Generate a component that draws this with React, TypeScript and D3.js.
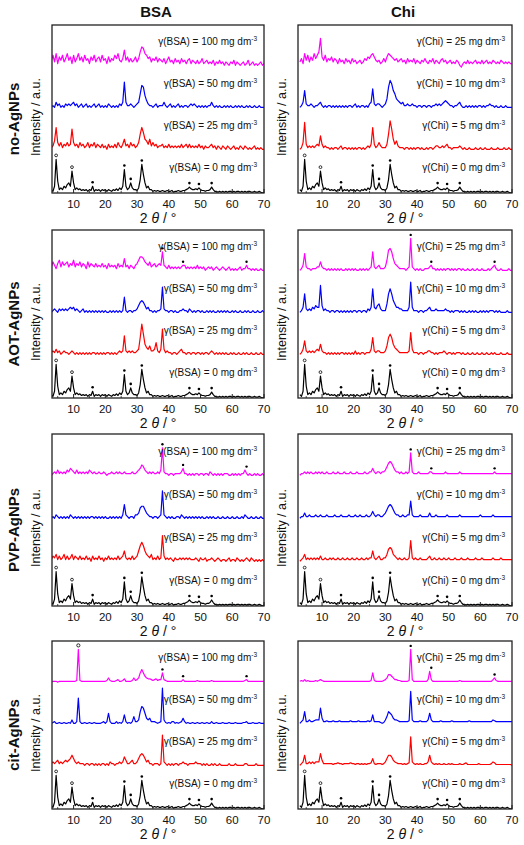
import React from 'react';
import * as d3 from 'd3';

// 2θ sampling grid (degrees), 3.0 … 70.0 in 0.5° steps (135 points)
const twoTheta: number[] = d3.range(0, 135).map((i) => 3 + i * 0.5);

// ---- reference sample (0 mg dm-3), same in every panel ----
const black0 = [
  3,2,5,21,8,3,4,3,5,4,
  6,7,5,14,7,3,4,3,3.5,2.5,
  3,2.5,3,2,3,2.5,5,2,3,2.5,
  3,2,3,2.5,3,2,3,2.5,2,3,
  2.5,3.5,2.5,4,3,5,15,5,3,4,
  7,4,3,3,2.5,4,9,18,12,7,
  4,5,3,3,2,2.5,2,2.5,2,2,
  2.5,2,2,2.5,2,2,2.5,1.5,2,2,
  2.5,2,2,2.5,2.5,3,3.5,4.5,3.5,3,
  3,3.5,3,4,3,2.5,2.5,2,2.5,2.5,
  3,4.5,3,2,2,1.5,2,1.5,2,1.5,
  2,1.5,2,2,1.5,2,1.5,2,2,1.5,
  2,1.5,2,1.5,2,2,1.5,1.5,2,1.5,
  1.5,2,1.5,1,1.5,
];

// ---- no-AgNPs ----
const noBSA25 = [
  3,4,7,15,6,4,6,3,5,4,
  6,4,5,14,6,4,5,3,6,4,
  5,3,4,6,3,5,4,6,3,5,
  4,3,5,3,4,2,5,3,4,3,
  5,3,6,4,3,5,8,4,5,3,
  6,4,5,3,4,6,11,15,12,8,
  7,5,8,4,6,4,5,3,4,4,
  5,3,4,3,5,3,4,3,4,3,
  4,3,5,3,4,5,3,5,3,4,
  3,4,3,5,3,4,2,4,3,3,
  4,5,3,4,2,4,3,2,4,3,
  2,4,3,2,3,4,2,3,2,4,
  3,2,4,3,2,3,2,3,4,2,
  3,2,3,2,2,
];
const noBSA50 = [
  2,3,2,5,3,4,2,3,2,4,
  3,4,3,4,5,3,4,2,3,4,
  2,3,4,2,3,2,3,4,2,3,
  4,2,3,2,3,2,4,3,2,3,
  2,3,2,4,3,5,17,5,3,3,
  4,3,2,3,4,5,10,15,14,9,
  6,4,3,3,2,3,4,2,3,3,
  3,5,3,2,3,4,2,3,2,3,
  4,2,3,2,3,3,2,3,4,3,
  4,3,2,3,2,3,2,3,2,3,
  3,5,3,2,3,2,3,2,2,3,
  2,3,2,3,2,2,3,2,3,2,
  3,2,2,3,2,3,2,2,3,2,
  2,3,2,2,2,
];
const noBSA100 = [
  5,8,4,9,3,7,5,8,4,6,
  9,5,7,3,8,4,6,9,5,7,
  4,8,5,6,3,7,5,8,4,6,
  7,4,8,5,6,3,7,4,6,5,
  8,6,9,5,4,6,11,5,7,4,
  6,4,5,7,4,6,10,13,12,9,
  8,6,7,4,6,5,7,4,6,5,
  4,6,3,5,7,4,5,3,6,4,
  5,3,6,4,5,3,5,6,3,5,
  4,3,5,3,4,6,3,4,5,3,
  4,3,5,2,4,3,5,3,4,2,
  4,3,2,4,3,5,2,4,3,2,
  3,4,2,3,5,2,3,4,2,3,
  2,3,4,2,3,
];
const noChi5 = [
  2,3,6,18,5,3,4,3,4,3,
  4,5,4,10,5,3,4,3,3,2,
  3,2,3,3,2,3,4,2,3,3,
  2,3,2,3,2,3,2,3,3,2,
  3,2,3,4,3,5,15,5,3,4,
  6,4,3,3,3,5,11,19,14,8,
  5,7,4,3,3,3,2,3,3,2,
  3,2,3,2,3,3,2,3,2,2,
  3,2,3,3,2,3,4,4,3,3,
  4,3,4,5,3,3,2,3,3,3,
  3,4,3,2,3,2,2,3,2,2,
  2,3,2,2,3,2,2,3,2,2,
  2,3,2,2,2,3,2,2,2,3,
  2,2,3,2,2,
];
const noChi10 = [
  2,3,5,12,4,3,3,4,3,2,
  3,3,4,5,3,2,3,2,3,3,
  2,3,2,3,2,3,2,3,2,3,
  2,3,3,2,3,4,2,3,2,3,
  3,2,3,2,4,5,13,4,3,4,
  4,3,2,3,4,7,14,18,16,12,
  10,7,6,5,4,5,3,3,4,3,
  3,4,3,3,2,3,3,2,3,3,
  2,3,3,2,3,3,4,3,4,3,
  4,5,6,5,4,3,3,2,3,3,
  4,5,3,2,2,3,2,3,2,3,
  2,3,2,3,3,2,3,2,3,3,
  4,3,3,2,3,2,2,3,2,2,
  3,2,2,2,2,
];
const noChi25 = [
  4,6,3,9,5,8,4,7,5,9,
  6,8,10,18,7,5,8,4,6,5,
  7,4,6,5,3,6,4,5,3,6,
  4,5,3,6,4,5,3,4,5,3,
  4,6,5,7,6,8,9,7,5,4,
  5,3,4,6,4,7,9,8,7,6,
  5,6,4,5,6,4,5,3,6,4,
  5,4,6,3,5,4,3,5,4,6,
  4,3,5,4,6,3,5,4,3,5,
  6,4,5,3,4,5,3,4,3,5,
  4,2,1,3,4,3,5,3,4,3,
  4,5,3,4,3,5,3,4,5,3,
  4,3,5,4,3,4,3,5,4,3,
  4,3,4,3,3,
];

// ---- AOT-AgNPs ----
const aotBSA25 = [
  3,4,3,5,3,4,2,3,4,3,
  3,2,3,4,3,2,3,2,3,2,
  3,2,3,2,3,2,3,3,2,3,
  2,3,2,3,2,3,3,2,3,2,
  3,2,3,4,3,4,13,4,3,4,
  3,4,3,3,4,5,12,20,14,8,
  6,5,7,4,4,5,9,4,3,5,
  17,5,3,4,3,3,2,3,3,2,
  3,4,5,3,3,2,3,3,2,3,
  3,2,3,3,2,3,2,3,3,2,
  3,4,3,2,3,2,3,2,3,2,
  3,2,2,3,2,3,2,2,3,2,
  2,3,2,3,2,2,3,2,2,3,
  2,2,3,2,2,
];
const aotBSA50 = [
  2,3,4,3,2,4,3,4,3,4,
  3,4,5,4,5,3,4,3,2,3,
  4,2,3,2,3,2,3,2,3,2,
  3,2,3,2,3,2,2,3,2,3,
  2,3,2,3,2,3,11,3,2,3,
  3,2,3,3,4,6,8,9,8,6,
  4,5,3,3,2,3,2,3,3,4,
  17,4,3,3,2,3,3,2,3,2,
  2,3,3,4,3,3,2,4,3,2,
  3,2,3,3,2,3,2,2,3,2,
  3,2,3,2,2,3,2,3,2,3,
  2,3,2,2,3,2,3,2,2,3,
  2,2,3,2,3,2,2,3,2,2,
  3,2,2,3,2,
];
const aotBSA100 = [
  4,7,5,3,6,8,4,7,5,6,
  7,4,6,5,8,4,6,5,7,4,
  6,5,3,7,4,6,5,4,6,4,
  5,4,6,4,5,3,6,4,5,4,
  5,3,6,4,5,4,9,4,5,3,
  5,4,3,5,6,8,10,10,9,7,
  6,5,7,4,5,6,4,5,6,5,
  13,5,4,3,5,3,4,3,4,3,
  4,3,4,5,5,3,4,3,4,3,
  4,3,5,3,4,3,4,2,3,4,
  3,4,2,3,4,3,2,3,4,3,
  2,3,4,2,3,2,3,2,3,4,
  2,3,3,5,3,3,2,3,2,3,
  2,2,3,2,2,
];
const aotChi5 = [
  2,3,5,10,4,3,4,3,4,3,
  4,5,4,8,4,3,3,2,3,2,
  3,2,3,2,3,2,3,3,2,3,
  2,3,2,3,2,4,2,3,2,3,
  3,2,3,3,3,5,12,4,3,4,
  4,3,3,3,4,7,12,14,12,8,
  6,5,4,3,3,3,3,3,3,4,
  15,5,3,3,3,2,3,3,2,3,
  3,4,4,3,3,2,3,2,3,3,
  3,4,3,2,3,3,2,3,2,3,
  3,3,2,3,2,2,3,2,2,3,
  2,2,3,2,2,3,2,2,3,2,
  2,3,2,3,2,2,2,3,2,2,
  2,3,2,2,2,
];
const aotChi10 = [
  2,3,5,13,4,3,4,3,5,4,
  6,5,5,18,6,3,4,3,3,2,
  3,3,2,3,3,2,3,2,3,2,
  3,2,3,2,3,3,2,3,3,2,
  3,3,2,4,3,5,16,5,4,6,
  7,4,3,3,3,7,13,16,13,9,
  7,5,5,4,4,3,3,3,3,5,
  20,5,3,3,3,2,3,3,2,3,
  3,4,5,3,3,3,4,3,3,3,
  3,3,4,3,3,2,3,2,3,3,
  3,2,3,2,3,2,2,3,2,3,
  2,3,2,2,3,2,3,2,3,2,
  3,3,3,2,3,2,3,2,2,2,
  2,3,2,2,2,
];
const aotChi25 = [
  2,3,5,12,4,3,3,2,3,3,
  3,4,4,7,4,3,3,2,3,2,
  3,2,3,2,3,2,3,2,2,3,
  2,3,2,3,2,3,2,2,3,2,
  3,2,3,2,3,4,13,4,3,4,
  5,3,3,3,4,8,14,15,13,9,
  6,5,4,3,3,3,3,2,3,4,
  21,4,3,2,3,2,3,2,2,3,
  3,3,4,5,3,3,2,3,2,3,
  2,3,2,3,3,2,3,2,3,2,
  3,3,2,3,2,2,3,2,2,3,
  2,2,3,2,2,3,2,2,2,3,
  2,3,4,5,3,2,2,3,2,2,
  2,2,3,2,2,
];

// ---- PVP-AgNPs ----
const pvpBSA25 = [
  3,5,4,6,3,5,3,4,6,3,
  5,3,4,6,3,5,4,3,5,3,
  4,3,5,3,4,2,5,3,4,3,
  5,3,4,2,4,3,5,3,4,3,
  4,3,5,3,4,5,8,4,3,4,
  3,5,3,4,5,8,11,13,11,8,
  6,5,4,6,3,4,3,5,3,4,
  17,5,3,4,3,4,3,2,4,3,
  3,4,3,4,3,4,3,4,3,3,
  3,4,3,2,4,3,3,4,2,3,
  3,4,3,2,3,4,3,2,3,3,
  2,3,4,2,3,3,2,4,3,2,
  3,2,3,4,3,2,4,3,2,3,
  2,3,2,3,2,
];
const pvpBSA50 = [
  2,3,2,4,3,2,3,2,3,2,
  3,2,4,3,2,3,2,3,2,3,
  2,3,2,3,2,3,3,2,3,2,
  3,2,3,2,3,2,2,3,2,3,
  2,3,2,3,2,4,10,4,3,2,
  3,3,2,4,4,5,8,9,9,7,
  5,4,3,3,2,3,3,2,3,4,
  18,4,3,2,3,2,3,2,2,3,
  3,2,4,3,2,3,2,3,2,3,
  2,3,2,3,2,3,2,2,3,2,
  3,2,3,2,2,3,2,2,3,2,
  2,3,2,2,3,2,2,3,2,2,
  3,2,4,3,2,2,3,2,2,3,
  2,2,3,2,2,
];
const pvpBSA100 = [
  2,3,4,3,5,3,4,3,4,3,
  5,4,6,5,4,3,5,3,4,3,
  4,3,4,3,5,4,3,4,3,3,
  4,3,3,4,3,2,3,3,4,3,
  3,4,3,4,3,3,4,3,3,3,
  3,4,3,3,4,5,6,8,7,5,
  4,3,4,3,4,3,3,4,3,5,
  18,4,3,3,2,3,3,2,3,3,
  3,3,4,6,3,3,2,3,2,3,
  2,3,3,2,3,3,2,3,3,2,
  4,3,2,3,2,3,2,3,2,3,
  3,3,2,2,3,2,3,2,3,2,
  3,3,5,3,2,3,2,2,3,2,
  3,2,2,3,2,
];
const pvpChi5 = [
  2,3,4,6,3,4,3,4,3,4,
  3,4,3,5,3,3,4,3,3,4,
  3,4,3,3,4,3,3,4,3,3,
  4,3,3,4,3,3,4,3,3,4,
  3,3,4,3,4,4,8,4,3,4,
  5,3,3,4,4,6,9,10,9,6,
  5,4,3,4,3,3,4,3,3,4,
  14,4,3,4,3,3,4,3,3,3,
  3,4,5,3,3,4,3,3,4,3,
  3,4,3,3,4,3,3,3,4,3,
  3,3,4,3,3,3,4,3,3,3,
  3,4,3,3,3,4,3,3,3,3,
  3,3,4,3,3,3,3,4,3,3,
  3,3,3,3,3,
];
const pvpChi10 = [
  2,3,3,5,3,3,4,3,3,3,
  4,3,3,4,3,3,3,4,3,3,
  3,3,4,3,3,3,4,3,3,3,
  3,4,3,3,3,4,3,3,4,3,
  3,3,4,3,3,4,6,4,3,4,
  4,3,3,4,5,7,9,10,9,7,
  5,4,4,3,3,4,3,3,4,4,
  12,4,3,3,3,3,4,3,3,3,
  3,3,5,3,3,3,4,3,3,3,
  3,3,3,4,3,3,3,3,3,3,
  3,4,3,3,3,3,3,3,3,3,
  3,3,3,3,4,3,3,3,3,3,
  3,3,4,3,3,3,3,3,3,3,
  3,3,3,3,3,
];
const pvpChi25 = [
  2,3,3,4,3,4,3,4,3,3,
  4,3,4,3,4,3,3,4,3,3,
  3,4,3,3,4,3,3,3,4,3,
  3,3,4,3,3,3,4,3,3,3,
  3,4,3,3,4,4,6,4,3,4,
  4,3,4,4,5,7,9,10,9,7,
  5,4,4,3,4,3,3,4,3,4,
  15,4,3,3,3,4,3,3,3,3,
  3,3,4,4,3,3,3,3,3,3,
  3,3,4,3,3,3,3,3,3,3,
  3,4,3,3,3,3,3,3,3,3,
  3,3,3,3,3,3,3,3,3,3,
  3,3,3,4,3,3,3,3,3,3,
  3,3,3,3,3,
];

// ---- cit-AgNPs ----
const citBSA25 = [
  3,4,3,4,5,3,4,3,4,5,
  4,5,6,8,6,4,3,4,3,3,
  3,2,3,3,2,3,3,2,3,2,
  3,2,3,3,2,3,2,4,3,3,
  2,3,3,4,3,4,7,5,3,3,
  4,5,3,3,4,6,8,9,8,6,
  4,5,3,3,2,3,3,3,2,3,
  20,4,3,2,3,2,3,2,3,3,
  2,3,3,4,3,3,2,3,3,3,
  3,4,3,3,3,2,3,2,3,2,
  2,3,2,3,2,2,3,2,2,2,
  2,2,3,2,2,2,3,2,2,2,
  2,2,3,3,2,2,2,2,2,3,
  2,2,2,2,2,
];
const citBSA50 = [
  2,2.5,3,2,2,2.5,2,2,2.5,2,
  2,2.5,2,4,2,2,3,17,3,2,
  2,2.5,2,2,2.5,2,2,2.5,2,2,
  2,2,2.5,3,2,3,8,3,2,2,
  2,3,2,2.5,2,3,7,3,2,2.5,
  2,3,6,3,3,4,9,12,11,8,
  5,4,5,3,3,3,2.5,2,2.5,3,
  23,4,2.5,2,2.5,2,3,3,2,2.5,
  2,2.5,3,5,3,2,2.5,2,2,2.5,
  2,2,2.5,2,2,2.5,2,2,2.5,2,
  2,3,2,2,2.5,2,2,2,2.5,2,
  2,2,2.5,2,2,2,2.5,2,2,2,
  2,2.5,2.5,3,2,2,2,2.5,2,2,
  2,2.5,2,2,2,
];
const citBSA100 = [
  1.5,2,2,2,1.5,2,2,2,2,2,
  2,2,2,2,2,2,2.5,21,2.5,2,
  2,2,2,2,2,2,2,2,2,2,
  2,2,2,2,2,2.5,4,2.5,2,2,
  2,2.5,3,2,2,2.5,3.5,2,2,2,
  2,2.5,4,2.5,3,4,7,9,7,5,
  4,3.5,3.5,3,2.5,3,3.5,2.5,3,3,
  7,3,2.5,2,2,2,2,2,2,2,
  2,2,2,3,2,2,2,2,2,2,
  2,2,2.5,2,2,2,2,2,2,2,
  2,2.5,2,2,2,2,2,2,2,2,
  2,2,2,2,2,2,2,2,2,2,
  2,2,2.5,3,2,2,2,2,2,2,
  2,2,2,2,2,
];
const citChi5 = [
  2,3,4,8,3,3,4,3,4,3,
  4,4,4,9,5,3,3,3,3,3,
  3,2.5,3,3,3.5,3,3,2.5,3,3,
  3,3,3.5,3,3,2.5,3,3,2.5,3,
  2.5,3,2.5,3,3,3.5,6,3,2.5,3,
  3,3,2.5,3,4,6,8,8,7,5,
  4,3.5,3,3,3,2.5,3,2.5,3,3.5,
  19,4,3,2.5,3,2.5,3,2.5,2.5,3,
  3,4,8,4,3,2.5,3,2.5,3,2.5,
  2.5,3,2.5,2.5,3,2.5,3,2.5,2.5,2.5,
  2.5,3,2.5,2.5,3,3.5,2.5,2.5,2.5,2.5,
  2.5,2.5,2.5,3,2.5,2.5,2.5,2.5,2.5,2.5,
  2.5,3,4,3.5,2.5,2.5,2.5,2.5,2.5,2.5,
  2.5,2.5,2.5,2.5,2,
];
const citChi10 = [
  2,3,4,9,3,3,4,3,3,3.5,
  4,4,4,11,5,3,3,3.5,3,3,
  3,3.5,3,3,3,3.5,3,3,3,3,
  3,3,3.5,3,3,3,3,3.5,3,3,
  3,3,3,3.5,3,3.5,7,3,3,3,
  3,2.5,2,2.5,4,6,9,8,7,5,
  4,4,3.5,3,3,3,3,3,3,3.5,
  21,4,3,3,3,3,3.5,3,3,3,
  3,4,8,4,3,3,3,3,3,3.5,
  3,3,3,3,3,3,3.5,3,3,3,
  3,3,3,3,3,3,3,3.5,3,3,
  3,3,3,3,3,3,3,3,3,3,
  3,3,4,3.5,3,3,3,3,3,3,
  3,3,3,3,3,
];
const citChi25 = [
  2,2.5,2,3,2,2.5,2,2,2,2,
  2.5,2,2.5,3,2.5,2,2,2,2,2,
  2,2,2,2,2,2,2,2,2,2,
  2,2,2,2,2,2,2,2,2,2,
  2,2,2,2,2,2.5,7,2.5,2,2,
  2,2,2,2.5,3,4,6,6,5,4,
  3,3,2.5,2.5,2,2,2,2,2,2.5,
  21,3,2,2,2,2,2,2,2,2,
  2,3,8,3,2,2,2,2,2,2,
  2,2,2,2,2,2,2,2,2,2,
  2,2.5,2,2,2,2,2,2,2,2,
  2,2,2,2,2,2,2,2,2,2,
  2,2,3,4,2.5,2,2,2,2,2,
  2,2,2,2,2,
];

// ---- labels / categories ----
const columnTitles = ['BSA', 'Chi'];
const rowTitles = ['no-AgNPs', 'AOT-AgNPs', 'PVP-AgNPs', 'cit-AgNPs'];
const concentrations = [
  ['0', '25', '50', '100'],
  ['0', '5', '10', '25'],
];
const xTicks = [10, 20, 30, 40, 50, 60, 70];
const xMinorTicks = [5, 15, 25, 35, 45, 55, 65];

// traces per panel: [row][col] -> bottom-to-top
const panelTraces = [
  [[black0, noBSA25, noBSA50, noBSA100], [black0, noChi5, noChi10, noChi25]],
  [[black0, aotBSA25, aotBSA50, aotBSA100], [black0, aotChi5, aotChi10, aotChi25]],
  [[black0, pvpBSA25, pvpBSA50, pvpBSA100], [black0, pvpChi5, pvpChi10, pvpChi25]],
  [[black0, citBSA25, citBSA50, citBSA100], [black0, citChi5, citChi10, citChi25]],
];

// phase markers: o = open circle, * = filled dot
const blackMarkerAngles = [4.5, 9.5, 16, 26, 28, 31.5, 46.5, 49.5, 53.5];
const blackMarkerKinds = ['o', 'o', '*', '*', '*', '*', '*', '*', '*'];
const agMarkerAngles = [38, 44.5, 64.5];
const topMarkers: number[][][] = [
  [[], []],
  [agMarkerAngles, agMarkerAngles],
  [agMarkerAngles, agMarkerAngles],
  [agMarkerAngles, agMarkerAngles],
];
const citTopOpenAngle = [11.5];

// ---- layout ----
const W = 524;
const H = 845;
const rowsY = [
  [25, 193],
  [230, 398],
  [434, 606],
  [641, 809],
];
const colsX = [
  { x0: 52, x1: 264, d: [3.2, 70] },
  { x0: 298, x1: 512, d: [2.4, 70] },
];
const offsets = [-1, 24, 49, 74];
const colors = ['#000000', '#ff0000', '#0000ff', '#ff00ff'];
const FONT = "'Liberation Sans', Arial, sans-serif";

function peakValue(vals: number[], angle: number) {
  let best = -Infinity;
  twoTheta.forEach((t, i) => {
    if (Math.abs(t - angle) <= 0.51) best = Math.max(best, vals[i]);
  });
  return best;
}

function Panel({ r, c }: { r: number; c: number }) {
  const col = colsX[c];
  const [y0, y1] = rowsY[r];
  const xs = d3.scaleLinear().domain(col.d).range([col.x0, col.x1]);
  const ys = d3.scaleLinear().domain([0, 100]).range([y1, y0]);
  const traces = panelTraces[r][c];
  const clipId = `clip-${r}-${c}`;
  const line = d3
    .line<[number, number]>()
    .x((d) => xs(d[0]))
    .y((d) => ys(d[1]));
  const labelName = columnTitles[c];

  const markers: JSX.Element[] = [];
  blackMarkerAngles.forEach((a, i) => {
    const v = peakValue(traces[0], a) + offsets[0];
    const cx = xs(a);
    const cy = ys(v) - 4;
    if (blackMarkerKinds[i] === 'o')
      markers.push(<circle key={`b${i}`} cx={cx} cy={cy} r={1.4} fill="white" stroke="#000" strokeWidth={0.8} />);
    else markers.push(<circle key={`b${i}`} cx={cx} cy={cy} r={1.3} fill="#000" />);
  });
  topMarkers[r][c].forEach((a, i) => {
    const v = peakValue(traces[3], a) + offsets[3];
    markers.push(<circle key={`t${i}`} cx={xs(a)} cy={ys(v) - 3.5} r={1.2} fill="#000" />);
  });
  if (r === 3 && c === 0) {
    citTopOpenAngle.forEach((a, i) => {
      const v = peakValue(traces[3], a) + offsets[3];
      markers.push(<circle key={`o${i}`} cx={xs(a)} cy={ys(v) - 4} r={1.6} fill="white" stroke="#000" strokeWidth={0.8} />);
    });
  }

  return (
    <g>
      <defs>
        <clipPath id={clipId}>
          <rect x={col.x0} y={y0} width={col.x1 - col.x0} height={y1 - y0} />
        </clipPath>
      </defs>
      <g clipPath={`url(#${clipId})`}>
        {traces.map((vals, k) => {
          const pts: [number, number][] = twoTheta.map((t, i) => [t, vals[i] + offsets[k]]);
          return <path key={k} d={line(pts) || ''} fill="none" stroke={colors[k]} strokeWidth={1.2} strokeLinejoin="round" />;
        })}
      </g>
      {markers}
      {concentrations[c].map((cv, k) => (
        <text
          key={`l${k}`}
          x={col.x1 - 7}
          y={ys(offsets[k] + 14)}
          textAnchor="end"
          fontFamily={FONT}
          fontSize={10}
          fill="#111"
        >
          {`γ(${labelName}) = ${cv} mg dm`}
          <tspan dy={-4} fontSize={6.5}>-3</tspan>
        </text>
      ))}
      <rect x={col.x0} y={y0} width={col.x1 - col.x0} height={y1 - y0} fill="none" stroke="#222" strokeWidth={1.3} />
      {xTicks.map((t) => (
        <g key={`t${t}`}>
          <line x1={xs(t)} x2={xs(t)} y1={y1} y2={y1 - 4} stroke="#222" strokeWidth={1} />
          <text x={xs(t)} y={y1 + 15} textAnchor="middle" fontFamily={FONT} fontSize={11.5} fill="#111">
            {t}
          </text>
        </g>
      ))}
      {xMinorTicks.map((t) => (
        <line key={`m${t}`} x1={xs(t)} x2={xs(t)} y1={y1} y2={y1 - 2} stroke="#222" strokeWidth={0.8} />
      ))}
      <text x={(col.x0 + col.x1) / 2} y={y1 + 30} textAnchor="middle" fontFamily={FONT} fontSize={14} fill="#111">
        2 <tspan fontStyle="italic">θ</tspan> / °
      </text>
      <text
        transform={`translate(${col.x0 - 12},${(y0 + y1) / 2 + 8}) rotate(-90)`}
        textAnchor="middle"
        fontFamily={FONT}
        fontSize={12.5}
        fill="#111"
      >
        Intensity / a.u.
      </text>
    </g>
  );
}

export default function App() {
  return (
    <svg
      width={W}
      height={H}
      viewBox={`0 0 ${W} ${H}`}
      style={{ position: 'absolute', left: 0, top: 0, background: '#fff' }}
    >
      <rect x={0} y={0} width={W} height={H} fill="#fff" />
      {columnTitles.map((t, c) => (
        <text
          key={t}
          x={(colsX[c].x0 + colsX[c].x1) / 2 - 2}
          y={17}
          textAnchor="middle"
          fontFamily={FONT}
          fontWeight="bold"
          fontSize={15}
          fill="#111"
        >
          {t}
        </text>
      ))}
      {rowTitles.map((t, r) => (
        <text
          key={t}
          transform={`translate(19,${(rowsY[r][0] + rowsY[r][1]) / 2 + 10}) rotate(-90)`}
          textAnchor="middle"
          fontFamily={FONT}
          fontWeight="bold"
          fontSize={15}
          fill="#111"
        >
          {t}
        </text>
      ))}
      {rowsY.map((_, r) => colsX.map((__, c) => <Panel key={`${r}-${c}`} r={r} c={c} />))}
    </svg>
  );
}
